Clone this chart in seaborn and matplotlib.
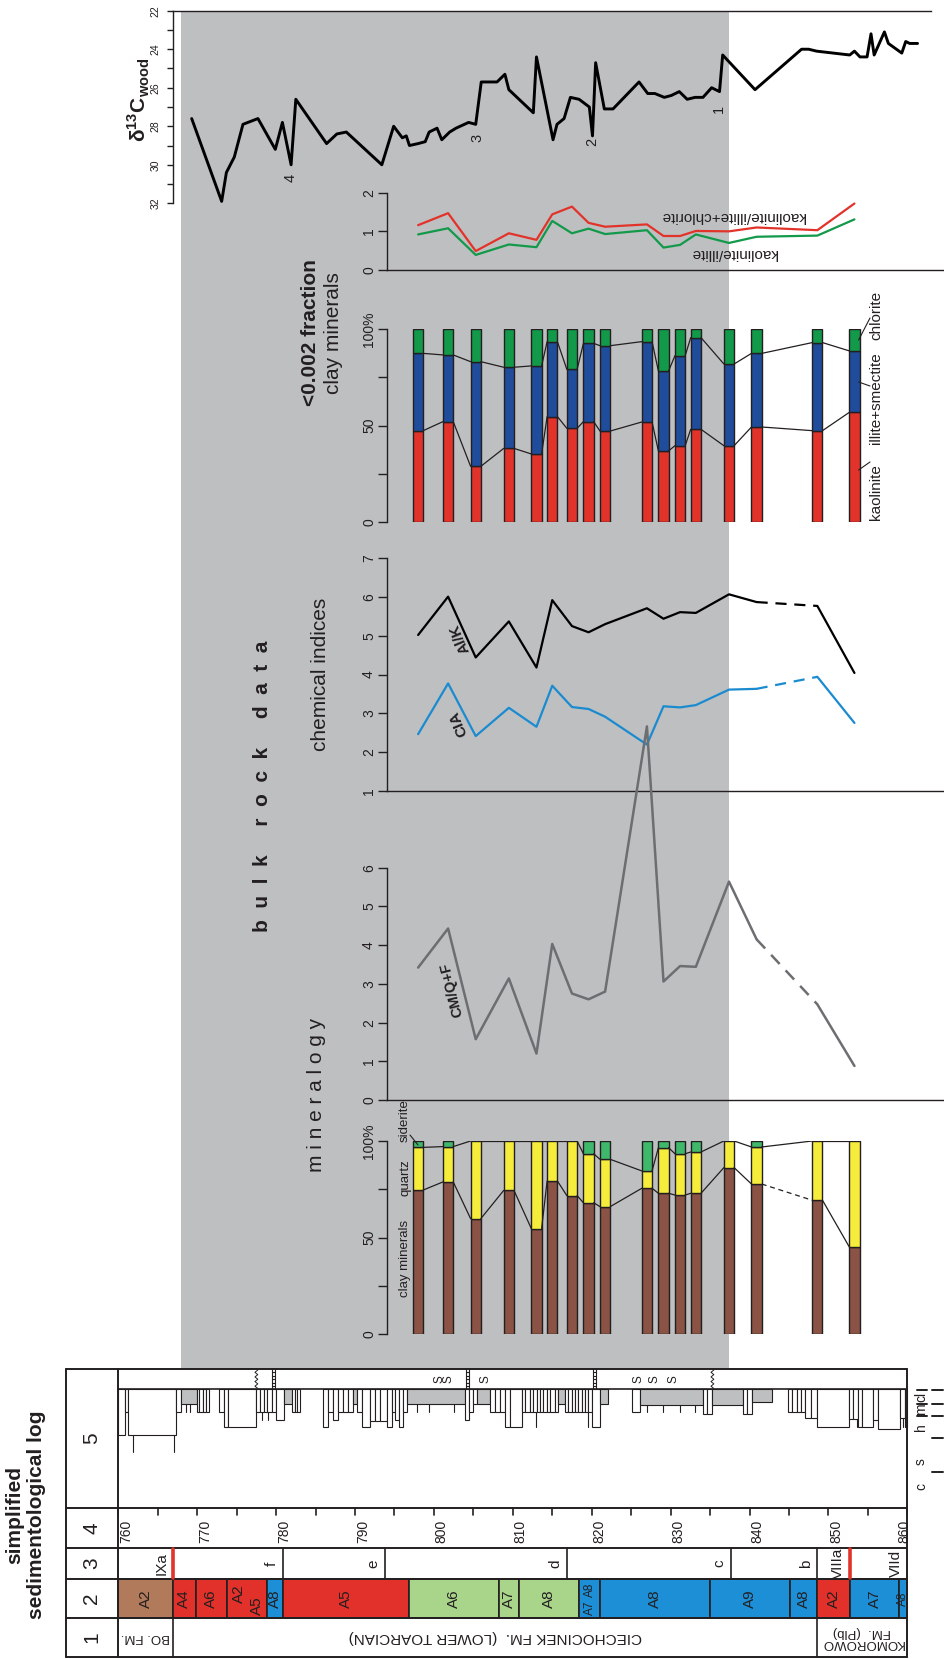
import numpy as np
import pandas as pd
import matplotlib
matplotlib.use("Agg")
import matplotlib.pyplot as plt
import seaborn as sns
from matplotlib.patches import Rectangle

# ---------------- data ----------------
# d13C wood curve (per mil, plotted as positive numbers, 22 on top)
c13_depth = [769.3, 773.1, 773.7, 774.7, 775.8, 777.7, 779.9, 780.8, 781.9, 782.5,
             786.4, 787.7, 788.9, 793.4, 794.9, 796.0, 796.5, 796.9, 798.0, 798.9,
             799.4, 800.4, 801.0, 802.0, 802.8, 804.4, 805.3, 806.0, 808.0, 809.0,
             809.5, 812.6, 813.0, 815.1, 815.6, 816.5, 817.3, 818.4, 819.7, 820.1,
             820.5, 821.6, 822.7, 826.0, 827.1, 828.0, 829.2, 830.1, 831.1, 832.1,
             833.1, 834.1, 835.2, 836.2, 836.6, 840.7, 846.6, 847.5, 848.5, 852.7,
             853.3, 854.0, 854.9, 855.4, 855.8, 857.1, 857.6, 859.3, 859.8, 860.3, 861.3]
c13_value = [27.6, 31.9, 30.4, 29.6, 27.9, 27.6, 29.2, 27.8, 30.0, 26.6,
             28.9, 28.4, 28.3, 30.0, 28.0, 28.6, 28.5, 29.0, 28.9, 28.8,
             28.3, 28.1, 28.7, 28.3, 28.1, 27.8, 27.9, 25.7, 25.7, 25.3,
             26.1, 27.3, 24.4, 28.7, 27.9, 27.6, 26.5, 26.6, 27.0, 28.5,
             24.7, 27.1, 27.1, 25.7, 26.3, 26.3, 26.5, 26.4, 26.2, 26.6,
             26.5, 26.5, 26.0, 26.2, 24.3, 26.1, 24.0, 24.0, 24.1, 24.3,
             24.1, 24.4, 24.4, 23.2, 24.3, 23.1, 23.7, 24.2, 23.6, 23.7, 23.7]
c13_event_depth = [781.8, 805.5, 820.1, 836.1]
c13_event_label = ["4", "3", "2", "1"]
c13_event_value = [30.7, 28.6, 28.8, 27.1]

# bulk rock / clay samples
sample_depth = [798.0, 801.8, 805.3, 809.5, 813.0, 815.0, 817.5, 819.6, 821.7,
                827.0, 829.1, 831.2, 833.2, 837.4, 840.9, 848.6, 853.3]
ratio_k_ic = [1.16, 1.47, 0.49, 0.95, 0.78, 1.44, 1.64, 1.22, 1.12,
              1.18, 0.88, 0.88, 1.01, 1.00, 1.10, 1.03, 1.72]
ratio_k_i = [0.92, 1.08, 0.39, 0.66, 0.59, 1.27, 0.95, 1.07, 0.93,
             1.03, 0.58, 0.65, 0.92, 0.70, 0.86, 0.89, 1.31]
kaolinite = [47.4, 52.1, 28.9, 38.2, 35.3, 54.7, 48.6, 52.1, 47.2,
             51.9, 36.9, 39.6, 48.1, 39.6, 49.3, 47.4, 56.9]
illite_smectite = [40.1, 34.6, 54.3, 42.1, 45.7, 38.9, 30.6, 40.6, 44.3,
                   41.7, 41.5, 46.7, 47.6, 42.4, 38.2, 45.7, 31.9]
chlorite = [12.5, 13.3, 16.8, 19.7, 19.0, 6.4, 20.8, 7.3, 8.5,
            6.4, 21.6, 13.7, 4.3, 18.0, 12.5, 6.9, 11.2]
al_k = [5.02, 6.01, 4.44, 5.37, 4.18, 5.92, 5.25, 5.09, 5.30,
        5.71, 5.44, 5.61, 5.59, 6.07, 5.87, 5.77, 4.04]
cia = [2.46, 3.77, 2.41, 3.14, 2.65, 3.71, 3.16, 3.11, 2.91,
       2.19, 3.18, 3.15, 3.21, 3.61, 3.63, 3.94, 2.75]
cm_qf = [3.42, 4.43, 1.57, 3.14, 1.20, 4.03, 2.75, 2.60, 2.80,
         9.65, 3.06, 3.46, 3.44, 5.64, 4.15, 2.47, 0.88]
clay_total = [74.6, 78.8, 59.8, 74.4, 54.6, 79.3, 71.7, 68.0, 66.0,
              75.5, 72.9, 72.0, 72.9, 86.2, 77.7, 69.3, 45.1]
quartz = [22.1, 18.3, 40.2, 25.6, 45.4, 20.7, 28.3, 25.4, 24.5,
          9.0, 23.6, 21.4, 21.4, 13.8, 19.2, 30.7, 54.9]
siderite = [3.3, 2.9, 0, 0, 0, 0, 0, 6.6, 9.5,
            15.5, 3.5, 6.6, 5.7, 0, 3.1, 0, 0]
gap_after = 14          # interval 841-848.6 m drawn dashed

grey_zone = [767.9, 837.4]

# column 1 - formations
fm_top = [760.0, 766.9, 848.6]
fm_base = [766.9, 848.6, 860.0]
fm_name = ["BO. FM.", "CIECHOCINEK FM.  (LOWER TOARCIAN)", "KOMOROWO\nFM.  (Plb)"]
fm_size = [9.5, 11, 9.5]
# column 2 - facies associations
unit_top = [760.0, 766.9, 769.8, 773.8, 778.8, 780.9, 796.9, 808.3, 810.8,
            818.4, 821.1, 835.0, 845.1, 848.6, 852.7, 859.0]
unit_base = unit_top[1:] + [860.0]
unit_kind = ["brown", "red", "red", "red", "blue", "red", "lgreen", "lgreen", "lgreen",
             "blue", "blue", "blue", "blue", "red", "blue", "blue"]
unit_label = ["A2", "A4", "A6", "", "A8", "A5", "A6", "A7", "A8",
              "", "A8", "A9", "A8", "A2", "A7", "A8"]
# column 3 - parasequences
zone_base = [766.9, 780.9, 793.8, 816.9, 837.6, 848.6, 852.7, 860.0]
zone_name = ["IXa", "f", "e", "d", "c", "b", "VIIIa", "VIId"]
red_bounds = [766.9, 852.7]

# column 5 - lithological log (grain-size width, grey = mudstone)
log_top = [760.00, 760.85, 761.27, 767.31, 767.90, 769.93, 770.27, 770.69, 771.11,
           772.80, 773.40, 773.95, 777.41, 777.96, 778.47, 778.89, 779.44, 779.95,
           781.00, 781.97, 782.40, 782.69, 785.99, 786.62, 787.26, 787.89, 788.52,
           789.16, 789.79, 790.21, 790.85, 791.90, 792.54, 793.17, 794.01, 794.65,
           795.07, 795.62, 796.13, 796.55, 803.95, 804.50, 805.00, 805.43, 807.12,
           807.75, 808.38, 809.02, 809.65, 811.12, 811.60, 812.18, 812.60, 813.02,
           813.45, 813.87, 814.30, 814.71, 815.35, 815.77, 816.62, 817.04, 817.46,
           817.90, 818.31, 818.73, 819.15, 819.57, 819.99, 821.05, 825.06, 826.11,
           834.14, 834.67, 835.20, 839.21, 839.74, 840.27, 844.91, 845.44, 845.97,
           846.50, 847.02, 847.76, 848.50, 852.64, 853.15, 853.78, 854.20, 855.60,
           856.32, 859.06, 859.69]
log_base = [760.85, 761.27, 767.31, 767.90, 769.93, 770.27, 770.69, 771.11, 771.49,
            773.40, 773.95, 777.41, 777.96, 778.47, 778.89, 779.44, 779.95, 781.00,
            781.97, 782.40, 782.69, 783.03, 786.62, 787.26, 787.89, 788.52, 789.16,
            789.79, 790.21, 790.85, 791.90, 792.54, 793.17, 794.01, 794.65, 795.07,
            795.62, 796.13, 796.55, 803.95, 804.50, 805.00, 805.43, 807.12, 807.75,
            808.38, 809.02, 809.65, 811.12, 811.60, 812.18, 812.60, 813.02, 813.45,
            813.87, 814.30, 814.71, 815.35, 815.77, 816.62, 817.04, 817.46, 817.90,
            818.31, 818.73, 819.15, 819.57, 819.99, 821.05, 822.10, 826.11, 834.14,
            834.67, 835.20, 839.21, 839.74, 840.27, 842.80, 845.44, 845.97, 846.50,
            847.02, 847.76, 848.50, 852.64, 853.15, 853.78, 854.20, 855.60, 856.32,
            859.06, 859.69, 860.00]
log_size = [46, 23, 46, 23, 15, 23, 23, 23, 23,
            23, 38, 38, 23, 23, 23, 23, 23, 31,
            15, 23, 23, 23, 38, 23, 31, 23, 23,
            23, 15, 23, 38, 32, 32, 32, 38, 23,
            31, 38, 23, 15, 31, 23, 15, 15, 23,
            23, 23, 38, 38, 23, 23, 23, 23, 23,
            23, 23, 23, 23, 23, 15, 23, 23, 23,
            23, 23, 23, 23, 23, 38, 15, 23, 16,
            25, 25, 16, 25, 25, 13, 23, 23, 23,
            23, 29, 29, 38, 30, 30, 38, 38, 31,
            40, 29, 38]
log_grey = [0, 0, 0, 0, 1, 0, 0, 0, 0,
            0, 0, 0, 0, 0, 0, 0, 0, 0,
            1, 0, 0, 0, 0, 0, 0, 0, 0,
            0, 1, 0, 0, 0, 0, 0, 0, 0,
            0, 0, 0, 1, 0, 0, 0, 1, 0,
            0, 0, 0, 0, 0, 0, 0, 0, 0,
            0, 0, 0, 0, 0, 1, 0, 0, 0,
            0, 0, 0, 0, 0, 0, 1, 0, 1,
            0, 0, 1, 0, 0, 1, 0, 0, 0,
            0, 0, 0, 0, 0, 0, 0, 0, 0,
            0, 0, 0]
trace_depth = [761.9, 767.0, 768.6, 769.1, 778.2, 779.0, 797.8, 799.4, 802.6,
               813.0, 819.5, 827.0, 829.1, 831.2, 833.1, 853.6, 859.4]
trace_size = [63, 63, 23, 23, 31, 31, 23, 23, 23, 38, 38, 23, 23, 23, 23, 38, 38]
s_depth = [800.7, 801.9, 806.6, 825.9, 828.0, 830.4]
ladder_depth = [779.7, 804.25, 820.35]
wavy_depth = [777.5, 835.3]

# ---------------- style ----------------
sns.set_style("ticks")
plt.rcParams['font.family'] = ['Liberation Sans', 'DejaVu Sans']
plt.rcParams['mathtext.fontset'] = 'custom'
plt.rcParams['mathtext.rm'] = 'Liberation Sans'
plt.rcParams['mathtext.bf'] = 'Liberation Sans:bold'

INK = '#231f20'
GREY = '#bebfc1'
RED = '#e2332a'
BLUE = '#1f4d9b'
GREEN = '#12994a'
BROWN = '#8a5345'
YELLOW = '#f6ec3b'
SIDGREEN = '#3fb86b'
UNIT_COL = {'brown': '#b07a5b', 'red': '#e1312a', 'lgreen': '#a9d58b', 'blue': '#1c8fd6'}

W, H = 944, 1659
fig = plt.figure(figsize=(W / 100, H / 100), dpi=100)
D0, PXM, X0 = 760.0, 7.89, 118.3          # depth -> pixel mapping of the page
XLIM = (D0 - X0 / PXM, D0 + (W - X0) / PXM)
BW = 1.3                                  # bar width (m)


def dpx(x):
    return D0 + (x - X0) / PXM


def rect(top, bot):
    return [0, 1 - bot / H, 1, (bot - top) / H]


def txt(x, y, s, **kw):
    kw.setdefault('color', INK)
    kw.setdefault('ha', 'center')
    kw.setdefault('va', 'center')
    fig.text(x / W, 1 - y / H, s, **kw)


def finish(ax, ylim, spine_at, ticks, labels, base=False, top_end=None,
           tsize=10, tlen=6.5, tpad=1.2):
    ax.set_xlim(XLIM)
    ax.set_ylim(*ylim)
    ax.set_xlabel('')
    ax.set_ylabel('')
    ax.set_facecolor('none')
    for s in ('top', 'right', 'bottom'):
        ax.spines[s].set_visible(False)
    ax.spines['left'].set_position(('data', spine_at))
    ax.spines['left'].set_bounds(min(ylim), max(ylim))
    if base:
        ax.spines['bottom'].set_visible(True)
        ax.spines['bottom'].set_bounds(spine_at, XLIM[1])
    if top_end is not None:
        ax.spines['top'].set_visible(True)
        ax.spines['top'].set_bounds(spine_at, top_end)
    for s in ax.spines.values():
        s.set_color(INK)
        s.set_linewidth(1.0)
    ax.tick_params(axis='x', bottom=False, labelbottom=False)
    ax.set_yticks(ticks, labels, rotation=90, va='center')
    ax.tick_params(axis='y', length=tlen, width=1, pad=tpad, labelsize=tsize, colors=INK)


def seg_lines(ax, vals, color, lw, dashed=None, **kw):
    d = np.asarray(sample_depth)
    v = np.asarray(vals)
    parts = [(0, len(d), '-')]
    if dashed is not None:
        parts = [(0, dashed + 1, '-'), (dashed, dashed + 2, (0, (5, 3.5))), (dashed + 1, len(d), '-')]
    for a, b, ls in parts:
        sns.lineplot(x=d[a:b], y=v[a:b], ax=ax, color=color, linewidth=lw,
                     linestyle=ls, sort=False, estimator=None, **kw)


def connect(ax, levels, dashed=None):
    d = np.asarray(sample_depth)
    for i in range(len(d) - 1):
        ls = (0, (4, 3)) if i == dashed else '-'
        ax.plot([d[i] + BW / 2, d[i + 1] - BW / 2], [levels[i], levels[i + 1]],
                color=INK, lw=0.9, ls=ls, zorder=3)


# ---------------- background: grey interval + log ----------------
bg = fig.add_axes([0, 0, 1, 1])
bg.set_xlim(XLIM)
bg.set_ylim(H, 0)
bg.axis('off')
bg.add_patch(Rectangle((grey_zone[0], 10.7), grey_zone[1] - grey_zone[0], 1369 - 10.7,
                       color=GREY, lw=0, zorder=0))

LOG_L, LOG_R = dpx(66), 860.0
ROWS = [1369, 1508, 1548, 1579, 1618, 1657]
SYM_Y = 1389.3
for y in ROWS:
    bg.plot([LOG_L, LOG_R], [y, y], color=INK, lw=1.4, zorder=5)
bg.plot([760, LOG_R], [SYM_Y, SYM_Y], color=INK, lw=1.2, zorder=5)
for x in (LOG_L, 760.0, LOG_R):
    bg.plot([x, x], [ROWS[0], ROWS[-1]], color=INK, lw=1.4, zorder=5)
for i, (y0, y1) in enumerate(zip(ROWS[:-1], ROWS[1:])):
    txt(92, (y0 + y1) / 2, str(5 - i), fontsize=15, rotation=90)

# column 5 lithology
for t, b, s, g in zip(log_top, log_base, log_size, log_grey):
    bg.add_patch(Rectangle((t, SYM_Y), b - t, s, facecolor=GREY if g else 'white',
                           edgecolor=INK, lw=0.8, zorder=3))
for d, s in zip(trace_depth, trace_size):
    bg.plot([d, d], [SYM_Y, SYM_Y + s], color=INK, lw=0.8, zorder=2)
for d in s_depth:
    bg.text(d, 1379, "S", rotation=90, fontsize=8.5, ha='center', va='center', color=INK)
for d in ladder_depth:
    bg.plot([d - 0.22, d - 0.22], [1369, SYM_Y], color=INK, lw=0.8)
    bg.plot([d + 0.22, d + 0.22], [1369, SYM_Y], color=INK, lw=0.8)
    bg.hlines(np.arange(1372, 1389, 3.5), d - 0.22, d + 0.22, color=INK, lw=0.8)
for d in wavy_depth:
    yy = np.linspace(1370, 1388.5, 9)
    bg.plot(d + 0.18 * (-1) ** np.arange(9), yy, color=INK, lw=0.7)
for y, two in zip([1390, 1404.3, 1415.7, 1438.3, 1471.7], [1, 1, 1, 0, 0]):
    bg.plot([dpx(931.7), dpx(943.3)], [y, y], color=INK, lw=1.4, clip_on=False)
    if two:
        bg.plot([dpx(916.7), dpx(926.7)], [y, y], color=INK, lw=1.4, clip_on=False)
for y, s in zip([1397, 1409, 1427, 1462, 1486], ["cl", "m", "h", "s", "c"]):
    txt(921, y, s, fontsize=10, rotation=90)

# column 4 depth scale
for d in range(760, 861, 5):
    bg.plot([d, d], [1508, 1515], color=INK, lw=1.2)
for d in range(760, 861, 10):
    bg.text(d + (1.0 if d < 860 else -0.35), 1531, str(d), rotation=90, fontsize=10,
            ha='center', va='center', color=INK)

# column 3 zones
for b, name in zip(zone_base, zone_name):
    if b < 860:
        bg.plot([b, b], [1548, 1579], color=INK, lw=1.2)
    bg.text(b - 1.45, 1563.5, name, rotation=90, fontsize=11, ha='center', va='center', color=INK)
for b in red_bounds:
    bg.plot([b, b], [1549, 1578], color=RED, lw=2.6, zorder=6)

# column 2 facies boxes
for t, b, k, lab in zip(unit_top, unit_base, unit_kind, unit_label):
    bg.add_patch(Rectangle((t, 1579), b - t, 1618 - 1579, facecolor=UNIT_COL[k],
                           edgecolor=INK, lw=1.2, zorder=4))
    if lab:
        bg.text((t + b) / 2, 1598.5, lab, rotation=90, fontsize=11 if b - t > 1.5 else 8.5,
                ha='center', va='center', color=INK, zorder=6)
bg.text(775.3, 1594, "A2", rotation=90, fontsize=11, ha='center', va='center', color=INK, zorder=6)
bg.text(777.6, 1606, "A5", rotation=90, fontsize=11, ha='center', va='center', color=INK, zorder=6)
bg.text(819.75, 1590, "A8", rotation=90, fontsize=8.5, ha='center', va='center', color=INK, zorder=6)
bg.text(819.75, 1608, "A7", rotation=90, fontsize=8.5, ha='center', va='center', color=INK, zorder=6)

# column 1 formations
for t, b, name, fs in zip(fm_top, fm_base, fm_name, fm_size):
    if b < 860:
        bg.plot([b, b], [1618, 1657], color=INK, lw=1.2)
    bg.text((t + b) / 2, 1637.5, name, rotation=180, fontsize=fs,
            ha='center', va='center', color=INK, linespacing=1.0)

# ---------------- d13C ----------------
ax1 = fig.add_axes(rect(10.7, 203.3))
sns.lineplot(x=c13_depth, y=c13_value, ax=ax1, color='black', linewidth=2.1,
             sort=False, estimator=None)
for d, v, lab in zip(c13_event_depth, c13_event_label, c13_event_value):
    ax1.text(d, lab, v, rotation=90, fontsize=10.5, ha='center', va='center', color=INK)
finish(ax1, (32, 22), dpx(172.7), list(range(22, 33)),
       [str(t) if t % 2 == 0 else '' for t in range(22, 33)], top_end=dpx(930.7),
       tsize=7.5, tlen=4, tpad=4.5)

# ---------------- clay ratios ----------------
SPX = dpx(386.7)
ax2 = fig.add_axes(rect(192.7, 270))
seg_lines(ax2, ratio_k_ic, RED, 1.6)
seg_lines(ax2, ratio_k_i, GREEN, 1.6)
finish(ax2, (0, 2), SPX, [0, 1, 2], ['0', '1', '2'], base=True)

# ---------------- clay minerals bars ----------------
ax3 = fig.add_axes(rect(329.3, 522))
k = np.array(kaolinite)
ki = k + np.array(illite_smectite)
ax3.bar(sample_depth, k, width=BW, color=RED, edgecolor=INK, lw=1)
ax3.bar(sample_depth, illite_smectite, bottom=k, width=BW, color=BLUE, edgecolor=INK, lw=1)
ax3.bar(sample_depth, chlorite, bottom=ki, width=BW, color=GREEN, edgecolor=INK, lw=1)
connect(ax3, k)
connect(ax3, ki)
finish(ax3, (0, 100), SPX, [0, 25, 50, 75, 100], ['0', '', '50', '', '100%'])

# ---------------- chemical indices ----------------
ax4 = fig.add_axes(rect(558.3, 790.7))
seg_lines(ax4, al_k, 'black', 1.6, dashed=gap_after)
seg_lines(ax4, cia, '#1b8bd0', 1.6, dashed=gap_after)
finish(ax4, (1, 7), SPX, list(range(1, 8)), [str(t) for t in range(1, 8)], base=True)

# ---------------- CM/Q+F ----------------
ax5 = fig.add_axes(rect(867.7, 1100))
seg_lines(ax5, cm_qf, '#6d6e71', 1.8, dashed=gap_after, clip_on=False)
finish(ax5, (0, 6), SPX, list(range(0, 7)), [str(t) for t in range(0, 7)], base=True)

# ---------------- mineralogy bars ----------------
ax6 = fig.add_axes(rect(1141, 1334))
c = np.array(clay_total)
cq = c + np.array(quartz)
sid = np.array(siderite)
ax6.bar(sample_depth, c, width=BW, color=BROWN, edgecolor=INK, lw=1)
ax6.bar(sample_depth, quartz, bottom=c, width=BW, color=YELLOW, edgecolor=INK, lw=1)
m = sid > 0
ax6.bar(np.array(sample_depth)[m], sid[m], bottom=cq[m], width=BW, color=SIDGREEN,
        edgecolor=INK, lw=1)
connect(ax6, c, dashed=gap_after)
connect(ax6, cq)
finish(ax6, (0, 100), SPX, [0, 25, 50, 75, 100], ['0', '', '50', '', '100%'])

# ---------------- annotations ----------------
txt(139, 100, r'δ$^{\mathbf{13}}$C$_{\mathbf{wood}}$', fontsize=15, fontweight='bold', rotation=90)
txt(310, 333, '<0.002 fraction', fontsize=15, fontweight='bold', rotation=90)
txt(333.5, 333, 'clay minerals', fontsize=15, rotation=90)
txt(320, 674, 'chemical indices', fontsize=15, rotation=90)
txt(262, 786, 'b  u  l  k     r  o  c  k     d  a  t  a', fontsize=15, fontweight='bold', rotation=90)
txt(317, 1095, 'm i n e r a l o g y', fontsize=15, rotation=90)
txt(15, 1515, 'simplified', fontsize=15, fontweight='bold', rotation=90)
txt(37, 1515, 'sedimentological log', fontsize=15, fontweight='bold', rotation=90)

txt(733, 216, 'kaolinite/illite+chlorite', fontsize=11, rotation=180)
txt(734, 253, 'kaolinite/illite', fontsize=11, rotation=180)
txt(876, 315, 'chlorite', fontsize=11, rotation=90)
txt(876, 398, 'illite+smectite', fontsize=11, rotation=90)
txt(876, 492, 'kaolinite', fontsize=11, rotation=90)
fig.add_artist(plt.Line2D([858.6 / W, 870 / W], [1 - 340 / H, 1 - 318 / H], color=INK, lw=0.8))
fig.add_artist(plt.Line2D([858.6 / W, 870 / W], [1 - 382 / H, 1 - 386 / H], color=INK, lw=0.8))
fig.add_artist(plt.Line2D([858.6 / W, 870 / W], [1 - 470 / H, 1 - 462 / H], color=INK, lw=0.8))

txt(460, 638, 'Al/K', fontsize=11, fontweight='bold', rotation=113)
txt(459, 723, 'CIA', fontsize=11, fontweight='bold', rotation=113)
txt(452, 990, 'CM/Q+F', fontsize=10.5, fontweight='bold', rotation=104)

txt(405, 1121, 'siderite', fontsize=9.5, rotation=90)
txt(405, 1178, 'quartz', fontsize=9.5, rotation=90)
txt(405, 1258, 'clay minerals', fontsize=9.5, rotation=90)
fig.add_artist(plt.Line2D([410 / W, 418 / W], [1 - 1135 / H, 1 - 1145 / H], color=INK, lw=0.8))

fig.savefig('out.png', dpi=100)
